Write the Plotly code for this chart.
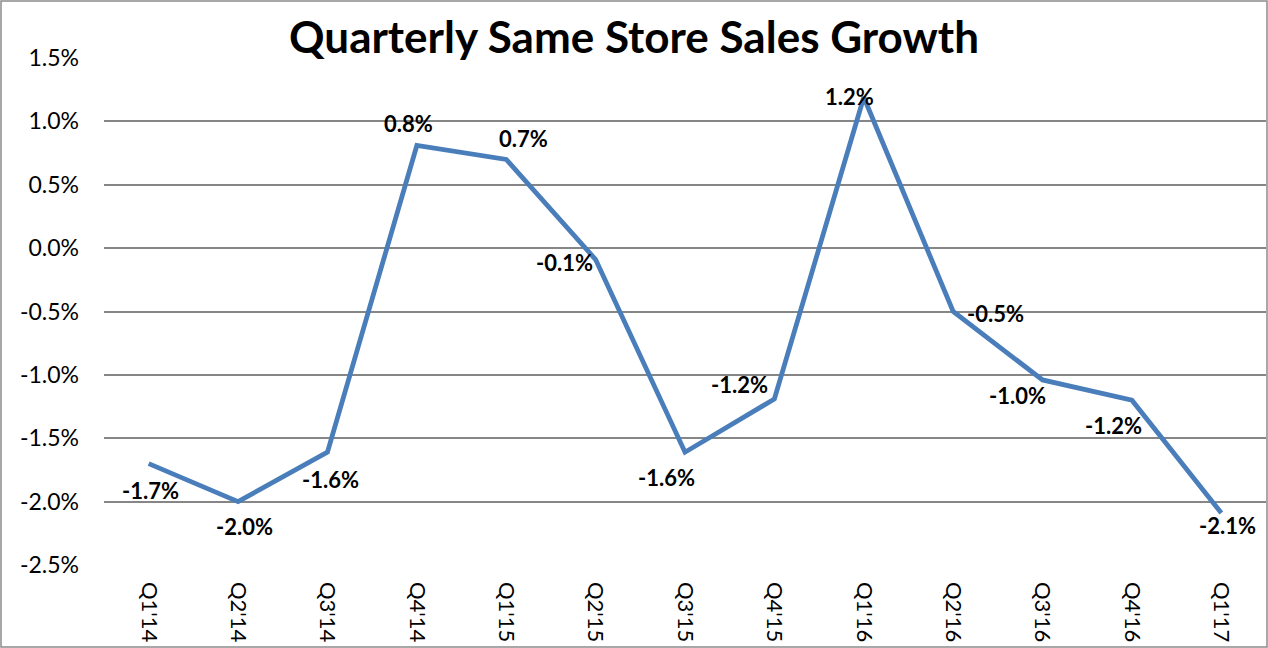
import plotly.graph_objects as go

quarters = ["Q1'14", "Q2'14", "Q3'14", "Q4'14", "Q1'15", "Q2'15", "Q3'15",
            "Q4'15", "Q1'16", "Q2'16", "Q3'16", "Q4'16", "Q1'17"]
growth = [-1.70, -2.00, -1.61, 0.81, 0.70, -0.09, -1.61,
          -1.19, 1.19, -0.50, -1.04, -1.20, -2.09]
y_ticks = [1.5, 1.0, 0.5, 0.0, -0.5, -1.0, -1.5, -2.0, -2.5]
y_tick_text = ["1.5%", "1.0%", "0.5%", "0.0%", "-0.5%", "-1.0%", "-1.5%", "-2.0%", "-2.5%"]

# label offsets (px) relative to each point, styling only
label_dx = [2, 6, 3, -8, 17, -31, -19, -35, -14, 42, -25, -18, 6]
label_dy = [-27, -25, -27, 22, 21, -3, -25, 14, 1, -2, -16, -25, -12]

W, H = 1268, 648
ML, MR, MT, MB = 104, 2, 58, 83
PW, PH = W - ML - MR, H - MT - MB

FONT = "Lato"

fig = go.Figure()
fig.add_trace(go.Scatter(
    x=quarters, y=growth, mode="lines",
    line=dict(color="#4A7EBB", width=4.8),
    hoverinfo="skip", showlegend=False,
))

for q, v, dx, dy in zip(quarters, growth, label_dx, label_dy):
    fig.add_annotation(
        x=q, y=v, text=f"<b>{v:.1f}%</b>", showarrow=False,
        xshift=dx, yshift=dy,
        font=dict(family=FONT, size=22, color="#000000"),
    )

# thin grey chart-area border
fig.add_shape(type="rect", xref="paper", yref="paper",
              x0=-(ML - 1) / PW, x1=1 + (MR - 1) / PW,
              y0=-(MB - 1) / PH, y1=1 + (MT - 1) / PH,
              line=dict(color="#8C8C8C", width=1.5), layer="above")

fig.update_layout(
    width=W, height=H,
    margin=dict(l=ML, r=MR, t=MT, b=MB),
    paper_bgcolor="white", plot_bgcolor="white",
    title=dict(text="<b>Quarterly Same Store Sales Growth</b>",
               x=0.5, xref="container", xanchor="center",
               y=1 - 38 / H, yref="container", yanchor="middle",
               font=dict(family=FONT, size=44, color="#000000")),
    xaxis=dict(type="category", tickangle=90, showgrid=False,
               showline=False, ticks="", zeroline=False,
               tickfont=dict(family=FONT, size=22, color="#000000"),
               ticklabelstandoff=16,
               range=[-0.5, len(quarters) - 0.5]),
    yaxis=dict(range=[-2.5, 1.5], tickvals=y_ticks, ticktext=y_tick_text,
               showgrid=True, gridcolor="#868686", gridwidth=1.5,
               zeroline=False, showline=False, ticks="",
               tickfont=dict(family=FONT, size=23, color="#000000"),
               ticklabelstandoff=24),
)

fig.write_html("out.html")
